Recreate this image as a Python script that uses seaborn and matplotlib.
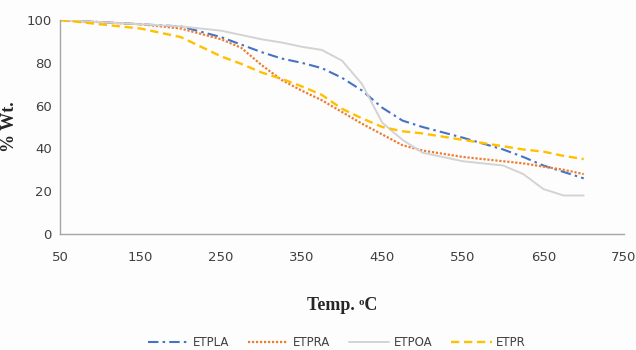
import matplotlib
matplotlib.use("Agg")
import matplotlib.pyplot as plt
import seaborn as sns
import pandas as pd

temps = [50, 100, 150, 200, 250, 275, 300, 325, 350, 375, 400, 425, 450, 475, 500, 550, 600, 625, 650, 675, 700]
etpla = [100, 99, 98, 97, 92, 88.5, 85, 82, 80, 77.5, 73, 67, 59, 53, 50, 45, 39.5, 36, 32, 29, 26]
etpra = [100, 99, 98, 96, 91, 87, 79, 72, 67, 62.5, 57, 51.5, 46.5, 41.5, 39, 36, 34, 33, 31.5, 30, 28]
etpoa = [100, 99, 98, 97, 95, 93, 91, 89.5, 87.5, 86, 81, 70, 52, 44, 38, 34, 32, 28, 21, 18, 18]
etpr = [100, 98, 96, 92, 83, 79.5, 75.5, 72.5, 69, 65, 58.5, 54, 50, 48, 47, 44, 41, 39.5, 38.5, 36.5, 35]

series = ["ETPLA", "ETPRA", "ETPOA", "ETPR"]
values = [etpla, etpra, etpoa, etpr]
colors = ["#4472C4", "#ED7D31", "#D3D3D3", "#FFC000"]
styles = [(0, (5, 2, 1.2, 2)), (0, (1, 0.8)), "-", (0, (3.5, 2))]
widths = [1.5, 1.6, 1.4, 1.7]

sns.set_style("white")
plt.rcParams["font.family"] = ["DejaVu Sans"]

fig = plt.figure(figsize=(6.36, 3.5), dpi=100)
fig.patch.set_facecolor("#fdfdfd")
ax = fig.add_axes([60/636, 1-234/350, (624-60)/636, (234-20)/350])
ax.set_facecolor("#fdfdfd")

for name, vals, c, ls, lw in zip(series, values, colors, styles, widths):
    df = pd.DataFrame({"Temp": temps, "Wt": vals})
    sns.lineplot(data=df, x="Temp", y="Wt", ax=ax, color=c, linestyle=ls,
                 linewidth=lw, label=name)

ax.set_xlim(50, 750)
ax.set_ylim(0, 100)
ax.set_xticks(range(50, 751, 100))
ax.set_yticks(range(0, 101, 20))
ax.tick_params(axis="x", labelsize=9.5, colors="#404040", length=0, pad=12)
ax.tick_params(axis="y", labelsize=9.5, colors="#404040", length=0, pad=6)
for s in ["top", "right"]:
    ax.spines[s].set_visible(False)
for s in ["left", "bottom"]:
    ax.spines[s].set_color("#A6A6A6")
    ax.spines[s].set_linewidth(1.0)

ax.set_xlabel("Temp. ᵒC", fontsize=13, fontweight="bold", family="Liberation Serif", labelpad=24)
ax.set_ylabel("% Wt.", fontsize=13, fontweight="bold", family="Liberation Serif", labelpad=6)

ax.legend(loc="center", bbox_to_anchor=(337/636, 1-343/350), bbox_transform=fig.transFigure,
          ncol=4, frameon=False, fontsize=8.5, handlelength=3.4, handletextpad=0.4,
          columnspacing=1.6, labelcolor="#404040", borderpad=0)

fig.savefig("out.png", dpi=100, facecolor=fig.get_facecolor())
